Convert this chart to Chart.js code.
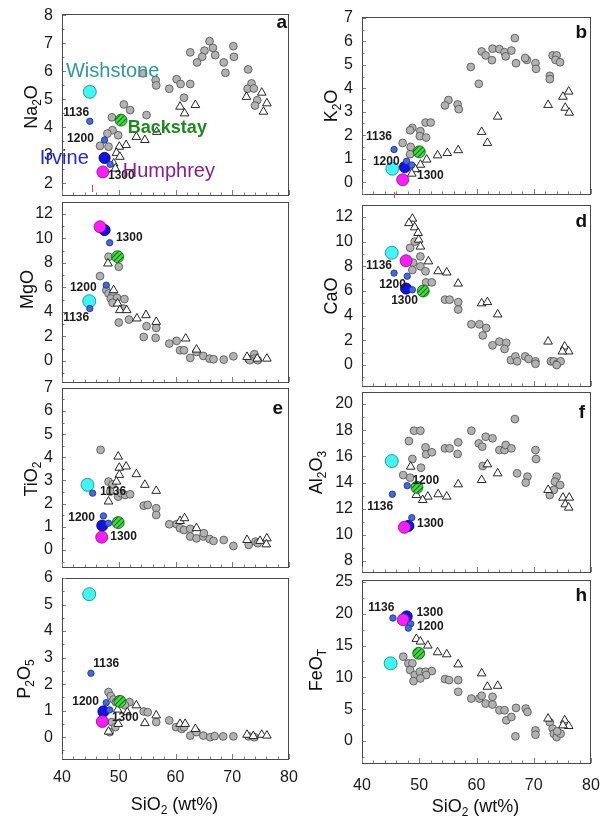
<!DOCTYPE html>
<html><head><meta charset="utf-8">
<script src="https://cdn.jsdelivr.net/npm/chart.js@4.4.1/dist/chart.umd.min.js"></script>
<style>
html,body{margin:0;padding:0;background:#fff;}
#wrap{position:relative;width:600px;height:823px;overflow:hidden;}
#wrap canvas{position:absolute;left:0;top:0;}
</style></head><body><div id="wrap"></div>
<script>
// ---------------- DATA (SiO2 wt%, oxide wt%) ----------------
const xTicks = [40, 50, 60, 70, 80];
const na2oTicks = [2, 3, 4, 5, 6, 7, 8];
const k2oTicks = [0, 1, 2, 3, 4, 5, 6, 7];
const mgoTicks = [0, 2, 4, 6, 8, 10, 12];
const caoTicks = [0, 2, 4, 6, 8, 10, 12];
const tio2Ticks = [0, 1, 2, 3, 4, 5, 6, 7];
const al2o3Ticks = [8, 10, 12, 14, 16, 18, 20];
const p2o5Ticks = [0, 1, 2, 3, 4, 5, 6];
const feoTicks = [0, 5, 10, 15, 20, 25];

const na2oCircles = [[66.0,7.07],[62.6,6.67],[65.1,6.73],[64.7,6.51],[63.8,6.31],[66.6,6.83],[67.0,6.57],[70.2,6.89],[70.3,6.51],[68.5,6.31],[68.8,5.94],[72.8,6.06],[73.4,5.56],[72.7,5.37],[73.8,5.38],[74.4,4.96],[74.0,4.77],[60.2,5.71],[60.9,5.54],[62.6,5.54],[58.9,5.37],[61.5,5.05],[56.5,5.68],[56.6,5.49],[54.3,5.92],[54.9,4.43],[50.9,4.81],[52.0,4.61],[48.8,4.35],[48.9,3.89],[48.0,3.77],[49.9,3.71],[46.7,3.33],[48.2,3.30]];
const na2oTriangles = [[75.2,5.23],[72.5,5.08],[76.1,4.85],[75.5,4.55],[60.8,4.73],[63.5,4.79],[61.6,4.49],[56.7,3.83],[53.1,3.65],[54.6,3.54],[51.3,3.36],[50.1,3.30],[49.6,3.08],[50.2,2.94],[49.1,2.70],[49.4,2.52]];

const k2oCircles = [[66.7,6.14],[60.9,5.57],[61.6,5.40],[62.8,5.69],[64.0,5.67],[64.9,5.54],[65.1,5.36],[66.1,5.61],[66.9,5.07],[62.7,5.20],[68.8,5.21],[68.5,5.29],[70.3,5.07],[70.4,4.83],[73.3,5.40],[74.0,5.40],[73.8,5.21],[74.6,5.11],[72.8,4.53],[72.8,4.39],[59.0,4.91],[60.4,4.19],[55.1,3.50],[54.5,3.27],[56.7,3.31],[56.9,3.11],[51.1,2.54],[52.0,2.54],[48.8,2.31],[48.4,2.21],[50.2,2.17],[50.1,1.96],[51.2,1.90],[47.1,1.67],[48.5,1.50],[48.4,1.19]];
const k2oTriangles = [[76.1,3.86],[75.1,3.64],[75.5,3.17],[76.2,2.96],[72.5,3.29],[63.7,2.79],[60.9,2.14],[61.9,1.67],[56.8,1.36],[54.9,1.24],[53.2,1.14],[51.3,0.96],[50.2,0.74],[49.3,0.55],[48.7,0.36]];

const mgoCircles = [[46.7,6.93],[47.8,5.78],[48.2,5.51],[48.9,5.37],[48.6,5.10],[49.7,5.16],[48.9,4.75],[51.0,5.05],[50.8,4.28],[51.8,3.38],[50.0,3.14],[54.9,2.84],[56.6,2.70],[54.4,1.96],[56.5,1.88],[58.9,1.42],[60.2,1.64],[60.8,0.87],[61.5,0.87],[62.6,0.25],[63.7,0.74],[64.9,0.41],[66.0,0.19],[66.7,0.14],[68.5,0.11],[70.2,0.38],[72.9,0.14],[73.9,0.55],[73.9,0.19],[74.5,0.06],[73.1,0.06],[48.2,8.51],[50.0,7.69]];
const mgoTriangles = [[48.1,7.96],[49.1,5.78],[49.8,4.69],[50.2,4.15],[51.4,4.15],[53.2,3.47],[54.8,3.74],[56.6,3.19],[61.8,1.83],[63.7,0.93],[72.6,0.33],[74.4,0.19],[76.1,0.19]];

const caoCircles = [[48.4,9.5],[49.2,10.0],[48.9,8.3],[50.2,8.8],[50.2,8.0],[48.8,7.7],[51.1,7.6],[51.2,6.7],[52.2,6.7],[54.5,5.3],[55.3,5.3],[56.8,5.1],[56.8,4.5],[59.1,3.3],[60.5,3.3],[61.1,2.4],[61.7,3.0],[62.8,1.6],[64.0,1.9],[65.2,1.8],[64.9,1.3],[66.0,0.4],[66.8,0.7],[67.1,0.3],[68.5,0.7],[69.1,0.5],[70.3,0.3],[70.3,0.1],[73.0,0.3],[73.5,0.3],[74.1,0.1],[74.7,0.3],[74.0,0.0]];
const caoTriangles = [[48.8,11.86],[48.2,11.5],[49.2,11.16],[49.8,10.7],[49.9,10.16],[50.2,9.6],[51.6,8.4],[53.3,7.6],[54.8,7.5],[56.8,6.6],[60.9,5.0],[61.9,5.1],[63.7,4.1],[72.5,1.9],[75.4,1.5],[76.1,1.1],[75.0,1.1]];

const tio2Circles = [[46.8,4.32],[48.2,2.95],[48.9,2.83],[49.9,2.30],[50.4,2.45],[51.1,2.37],[52.0,2.40],[48.5,2.52],[54.4,1.91],[55.1,1.94],[56.6,1.80],[56.6,1.51],[58.9,1.11],[60.2,1.11],[60.8,0.94],[61.5,0.86],[62.6,0.91],[62.6,0.58],[63.7,0.50],[64.9,0.58],[65.0,0.72],[66.0,0.47],[66.7,0.39],[68.5,0.43],[70.2,0.17],[72.9,0.22],[74.1,0.36],[74.5,0.29]];
const tio2Triangles = [[49.9,4.03],[50.1,3.55],[51.3,3.60],[53.1,3.27],[50.1,3.24],[49.6,2.95],[54.6,2.81],[56.6,2.55],[48.2,2.09],[60.8,1.25],[61.6,1.37],[63.7,0.94],[72.6,0.43],[74.9,0.39],[76.1,0.50],[76.0,0.24]];

const al2o3Circles = [[48.2,17.17],[49.1,17.96],[50.2,17.96],[51.1,16.69],[51.2,16.15],[52.2,16.31],[48.8,15.80],[50.3,15.13],[47.2,14.57],[48.4,14.37],[54.5,16.61],[55.3,16.61],[56.8,17.07],[56.7,16.18],[59.1,17.96],[60.4,16.99],[61.0,16.74],[61.6,17.50],[62.8,17.38],[64.0,16.48],[64.9,16.48],[65.1,16.87],[66.1,16.61],[66.7,18.85],[67.1,14.70],[68.9,14.45],[68.6,13.99],[70.3,16.48],[70.4,15.80],[61.1,15.26],[74.0,14.45],[73.7,14.06],[74.6,13.81],[72.8,13.04],[73.5,13.43]];
const al2o3Triangles = [[48.5,15.21],[61.9,15.39],[63.7,14.70],[60.9,14.19],[56.8,13.86],[53.3,13.10],[54.8,12.92],[51.5,12.92],[50.6,12.66],[49.5,13.04],[72.5,13.43],[75.1,12.84],[76.2,12.84],[75.5,12.33],[76.1,12.08]];

const p2o5Circles = [[48.2,1.70],[48.6,1.55],[49.1,1.42],[49.5,1.32],[51.9,1.32],[51.1,1.20],[54.4,0.97],[55.1,0.94],[56.6,0.57],[58.9,0.63],[60.1,0.38],[61.1,0.31],[61.5,0.38],[62.6,0.06],[63.7,0.19],[64.9,0.06],[66.1,0.0],[66.9,0.04],[68.4,0.03],[70.2,0.03],[72.9,0.03],[73.9,0.0],[48.8,0.57],[49.4,0.38],[48.4,0.19]];
const p2o5Triangles = [[53.1,1.20],[51.5,0.94],[49.8,1.04],[49.9,0.50],[54.6,0.53],[56.6,0.82],[60.8,0.50],[61.7,0.50],[63.5,0.31],[72.6,0.09],[73.7,0.04],[75.2,0.09],[76.1,0.06],[48.2,0.21]];

const feoCircles = [[47.2,13.26],[48.1,12.21],[48.8,12.21],[48.4,11.16],[49.2,10.37],[50.1,10.89],[51.1,10.89],[52.2,11.0],[51.2,10.37],[49.0,9.42],[50.2,9.84],[54.5,9.74],[55.2,9.58],[56.8,9.58],[56.8,7.74],[59.1,6.68],[60.5,6.68],[60.9,7.11],[61.6,5.89],[62.8,6.95],[62.8,5.74],[64.0,4.84],[64.9,4.84],[65.2,3.26],[66.1,3.79],[66.9,5.21],[66.8,0.74],[68.6,5.11],[68.9,4.58],[70.3,1.68],[70.3,1.0],[72.8,2.95],[73.3,1.95],[73.5,1.16],[74.0,0.63],[74.7,1.16],[74.1,1.53]];
const feoTriangles = [[49.5,16.05],[50.2,15.63],[51.5,15.0],[53.2,13.95],[54.8,13.63],[56.8,12.05],[60.9,10.63],[61.9,8.53],[63.7,8.68],[72.5,3.53],[75.4,3.26],[76.1,2.37],[75.1,2.47],[50.0,13.8]];

// special targets, panel order a (Na2O), b (K2O), c (MgO), d (CaO), e (TiO2), f (Al2O3), g (P2O5), h (FeOT)
const wishstone = [[44.9,5.26],[45.3,0.57],[44.8,4.88],[45.2,9.1],[44.5,2.81],[45.2,15.64],[44.8,5.39],[45.0,12.21]];
const backstay  = [[50.4,4.25],[50.0,1.29],[49.8,8.51],[50.7,6.0],[49.9,1.18],[49.6,13.63],[50.2,1.35],[49.9,13.79]];
const irvine    = [[47.5,2.90],[47.5,0.64],[47.5,10.69],[47.7,6.2],[47.1,1.05],[48.1,10.68],[47.3,0.97],[47.8,19.58]];
const humphrey  = [[47.2,2.40],[47.1,0.10],[46.7,10.96],[47.7,8.45],[47.0,0.55],[47.4,10.57],[47.1,0.59],[47.2,19.05]];
const pt1136    = [[44.9,4.21],[45.6,1.39],[44.9,4.28],[45.6,7.45],[45.4,2.45],[45.3,13.10],[45.1,2.41],[45.4,19.32]];
const pt1200    = [[47.5,3.54],[47.8,0.89],[47.8,6.19],[47.9,7.2],[47.3,1.47],[47.9,13.76],[47.8,1.30],[48.1,17.74]];
const pt1300    = [[48.5,2.67],[48.7,0.73],[48.4,9.65],[48.8,6.1],[48.2,1.15],[48.7,11.31],[48.4,1.03],[48.5,18.42]];

// ---------------- LAYOUT / STYLE ----------------
const FONT = '"Liberation Sans", Arial, Helvetica, sans-serif';
// anchors (data units) for the small numeric labels, panel order a..h
const lab1136 = [[40.2,4.5],[40.7,1.92],[40.2,3.51],[40.7,8.03],[46.7,2.50],[40.9,12.13],[45.5,2.78],[41.1,20.9]];
const lab1200 = [[40.9,3.6],[41.9,0.85],[41.4,5.96],[43.0,6.49],[41.1,1.38],[48.8,14.11],[41.8,1.32],[49.6,17.9]];
const lab1300 = [[48.1,2.25],[49.6,0.26],[49.5,10.04],[45.1,5.19],[48.5,0.56],[49.6,10.83],[48.8,0.75],[49.5,20.1]];

const L = {l:62, r:289}, R = {l:362, r:591};
const panels = [
 {circles:na2oCircles, tri:na2oTriangles, col:L, t:14, b:196, min:1.54, max:8.04, ticks:na2oTicks, title:[['Na',0],['2',1],['O',0]], tx:31, ty:2, letter:'a', lpos:[2,14], red:[45.2,-11,-4], names:true},
 {circles:k2oCircles, tri:k2oTriangles, col:R, t:17, b:195, min:-0.55, max:7.04, ticks:k2oTicks, title:[['K',0],['2',1],['O',0]], tx:331, ty:0, letter:'b', lpos:[4,21], red:[45.6,-3,3]},
 {circles:mgoCircles, tri:mgoTriangles, col:L, t:202, b:383, min:-1.8, max:12.98, ticks:mgoTicks, title:[['MgO',0]], tx:27, ty:-3, letter:''},
 {circles:caoCircles, tri:caoTriangles, col:R, t:205, b:387, min:-1.78, max:12.97, ticks:caoTicks, title:[['CaO',0]], tx:331, ty:0, letter:'d', lpos:[4,22]},
 {circles:tio2Circles, tri:tio2Triangles, col:L, t:388, b:568, min:-0.78, max:6.99, ticks:tio2Ticks, title:[['TiO',0],['2',1]], tx:31, ty:1, letter:'e', lpos:[6,26]},
 {circles:al2o3Circles, tri:al2o3Triangles, col:R, t:392, b:573, min:7.08, max:20.92, ticks:al2o3Ticks, title:[['Al',0],['2',1],['O',0],['3',1]], tx:316, ty:-10, letter:'f', lpos:[6,26]},
 {circles:p2o5Circles, tri:p2o5Triangles, col:L, t:578, b:760, min:-0.86, max:6.0, ticks:p2o5Ticks, title:[['P',0],['2',1],['O',0],['5',1]], tx:24, ty:10, letter:'', xLabels:true, xPad:8, xTitleY:804},
 {circles:feoCircles, tri:feoTriangles, col:R, t:580, b:764, min:-3.6, max:25.3, ticks:feoTicks, title:[['FeO',0],['T',1]], tx:316, ty:-2, letter:'h', lpos:[4,21], xLabels:true, xPad:12, xTitleY:806}
];
const xTitle = [['SiO',0],['2',1],[' (wt%)',0]];

function xy(arr){ return arr.map(p => ({x:p[0], y:p[1]})); }

function hatchPattern(){
  const c = document.createElement('canvas'); c.width = 5; c.height = 5;
  const g = c.getContext('2d');
  g.fillStyle = '#3fdc3f'; g.fillRect(0,0,5,5);
  g.strokeStyle = '#157015'; g.lineWidth = 1.1;
  g.beginPath();
  g.moveTo(-1,6); g.lineTo(6,-1);
  g.moveTo(-2,2); g.lineTo(2,-2);
  g.moveTo(3,7); g.lineTo(7,3);
  g.stroke();
  return g.createPattern(c, 'repeat');
}

function richWidth(ctx, parts, size){
  let w = 0;
  parts.forEach(([s,sub]) => { ctx.font = (sub? Math.round(size*0.65): size) + 'px ' + FONT; w += ctx.measureText(s).width; });
  return w;
}
function drawRich(ctx, parts, cx, cy, size, rotate, color){
  ctx.save();
  ctx.translate(cx, cy);
  if (rotate) ctx.rotate(-Math.PI/2);
  const w = richWidth(ctx, parts, size);
  let x = -w/2;
  const base = size*0.36;
  ctx.fillStyle = color; ctx.textAlign = 'left'; ctx.textBaseline = 'alphabetic';
  parts.forEach(([s,sub]) => {
    ctx.font = (sub? Math.round(size*0.65): size) + 'px ' + FONT;
    ctx.fillText(s, x, sub ? base + size*0.22 : base);
    x += ctx.measureText(s).width;
  });
  ctx.restore();
}

const YW = 40, XH = 30;
const wrap = document.getElementById('wrap');

panels.forEach((p, i) => {
  const cv = document.createElement('canvas');
  cv.width = 600; cv.height = 823;
  wrap.appendChild(cv);
  const ctx = cv.getContext('2d');
  const deco = {
    id: 'deco' + i,
    afterDatasetsDraw(chart){
      const c = chart.ctx, a = chart.chartArea;
      const xs = chart.scales.x, ys = chart.scales.y;
      c.save();
      // frame
      c.strokeStyle = '#4a4a4a'; c.lineWidth = 1;
      c.strokeRect(Math.round(a.left)+0.5, Math.round(a.top)+0.5, Math.round(a.right-a.left)-1, Math.round(a.bottom-a.top)-1);
      // inward ticks
      c.strokeStyle = '#808080'; c.beginPath();
      for (let v = 40; v <= 80; v += 2){
        const px = Math.round(xs.getPixelForValue(v)) + 0.5;
        const len = (v % 10 === 0) ? 5 : 2.5;
        c.moveTo(px, a.bottom - 1); c.lineTo(px, a.bottom - 1 - len);
      }
      const step = p.ticks[1] - p.ticks[0];
      for (let v = p.ticks[0] - step; v <= p.ticks[p.ticks.length-1] + step; v += step/2){
        if (v < ys.min || v > ys.max) continue;
        const py = Math.round(ys.getPixelForValue(v)) + 0.5;
        const major = p.ticks.includes(v);
        c.moveTo(a.left + 1, py); c.lineTo(a.left + (major ? 4 : 2.5), py);
      }
      c.stroke();
      // red marker
      if (p.red){
        const px = Math.round(xs.getPixelForValue(p.red[0])) + 0.5;
        c.strokeStyle = '#e04848'; c.lineWidth = 1;
        c.beginPath(); c.moveTo(px, a.bottom + p.red[1]); c.lineTo(px, a.bottom + p.red[2]); c.stroke();
      }
      // numeric labels
      c.font = 'bold 12px ' + FONT; c.fillStyle = '#1a1a1a'; c.textAlign = 'left'; c.textBaseline = 'middle';
      [['1136', lab1136], ['1200', lab1200], ['1300', lab1300]].forEach(([s, arr]) => {
        c.fillText(s, xs.getPixelForValue(arr[i][0]), ys.getPixelForValue(arr[i][1]));
      });
      // target names (panel a)
      if (p.names){
        const nm = [['Wishstone', 40.7, 6.0, '20px', '#2f9a9a'], ['Backstay', 51.6, 3.96, 'bold 18px', '#1d8a1d'], ['Irvine', 36.1, 2.89, '20px', '#2626e0'], ['Humphrey', 50.7, 2.43, '20px', '#8a1f8a']];
        nm.forEach(([s, x, y, f, col]) => {
          c.font = f + ' ' + FONT; c.fillStyle = col;
          c.fillText(s, xs.getPixelForValue(x), ys.getPixelForValue(y));
        });
      }
      // panel letter
      if (p.letter){
        c.font = 'bold 19px ' + FONT; c.fillStyle = '#111'; c.textAlign = 'right'; c.textBaseline = 'alphabetic';
        c.fillText(p.letter, a.right - p.lpos[0], a.top + p.lpos[1]);
      }
      c.restore();
      // axis titles
      drawRich(c, p.title, p.tx, (a.top + a.bottom)/2 + p.ty, 18, true, '#111');
      if (p.xLabels) drawRich(c, xTitle, (a.left + a.right)/2 - 1, p.xTitleY, 18, false, '#111');
    }
  };
  const small = {pointStyle:'circle', pointRadius:3.2, backgroundColor:'#4169e1', borderColor:'#1c2c86', borderWidth:0.8};
  new Chart(ctx, {
    type: 'scatter',
    data: { datasets: [
      Object.assign({label:'1136', data: xy([pt1136[i]])}, small),
      Object.assign({label:'1200', data: xy([pt1200[i]])}, small),
      Object.assign({label:'1300', data: xy([pt1300[i]])}, small),
      {label:'Humphrey', data: xy([humphrey[i]]), pointRadius:6, backgroundColor:'#ff1cff', borderColor:'#7a107a', borderWidth:0.8},
      {label:'Irvine', data: xy([irvine[i]]), pointRadius:5.6, backgroundColor:'#1212e8', borderColor:'#00005a', borderWidth:0.8},
      {label:'Backstay', data: xy([backstay[i]]), pointRadius:6, backgroundColor: hatchPattern(), borderColor:'#0e5a0e', borderWidth:0.8},
      {label:'Wishstone', data: xy([wishstone[i]]), pointRadius:6.5, backgroundColor:'#3ff6f6', borderColor:'#1a8080', borderWidth:0.8},
      {label:'triangles', data: xy(p.tri), pointStyle:'triangle', pointRadius:5, backgroundColor:'#ffffff', borderColor:'#111', borderWidth:0.9},
      {label:'circles', data: xy(p.circles), pointStyle:'circle', pointRadius:3.9, backgroundColor:'#b2b2b2', borderColor:'#4e4e4e', borderWidth:0.8}
    ]},
    options: {
      responsive:false, animation:false, devicePixelRatio:1, events:[],
      layout:{padding:{left:p.col.l - YW, right:600 - p.col.r, top:p.t, bottom:823 - p.b - XH}},
      plugins:{legend:{display:false}, tooltip:{enabled:false}},
      scales:{
        x:{type:'linear', position:'bottom', min:40, max:80,
           afterBuildTicks: s => { s.ticks = xTicks.map(v => ({value:v})); },
           afterFit: s => { s.height = XH; s.paddingLeft = 0; s.paddingRight = 0; },
           grid:{display:false, drawTicks:false}, border:{display:false},
           ticks:{display:!!p.xLabels, padding:p.xPad || 8, color:'#1a1a1a', autoSkip:false, maxRotation:0, font:{family:FONT, size:16}}},
        y:{type:'linear', position:'left', min:p.min, max:p.max,
           afterBuildTicks: s => { s.ticks = p.ticks.map(v => ({value:v})); },
           afterFit: s => { s.width = YW; s.paddingTop = 0; s.paddingBottom = 0; },
           grid:{display:false, drawTicks:false}, border:{display:false},
           ticks:{padding:9, color:'#1a1a1a', autoSkip:false, font:{family:FONT, size:16}}}
      }
    },
    plugins:[deco]
  });
});
</script></body></html>
